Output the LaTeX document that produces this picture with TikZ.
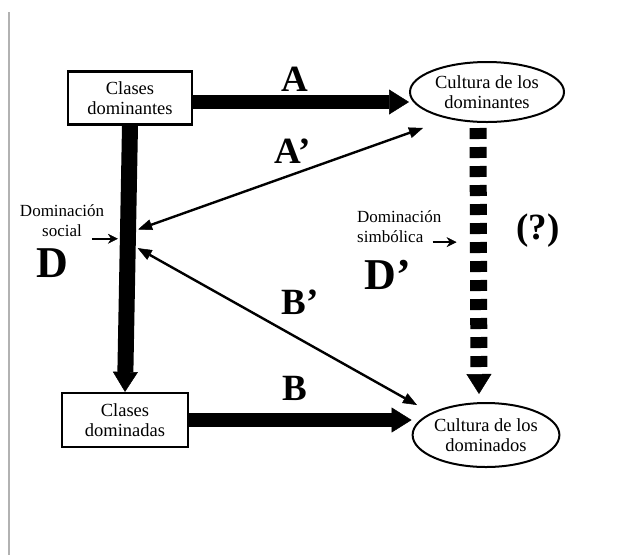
\documentclass[tikz,border=0pt]{standalone}
\usepackage{fontspec}
\setmainfont{Liberation Serif}
\usetikzlibrary{arrows.meta, positioning, shapes, calc}

\begin{document}
\begin{tikzpicture}[x=1pt, y=-1pt,
    classbox/.style={draw, line width=2.2pt, inner sep=0pt, align=center,
        font=\fontsize{18.5}{20}\selectfont},
    culture/.style={draw, ellipse, line width=2pt, inner sep=0pt, align=center,
        font=\fontsize{18.5}{20}\selectfont},
    bigarrow/.style={line width=14pt,
        -{Triangle[length=20pt, width=25pt, line width=0.5pt]}},
    dblarrow/.style={line width=2.4pt,
        {Triangle[length=14pt, width=11pt, line width=0.5pt]}-{Triangle[length=14pt, width=11pt, line width=0.5pt]}},
    smallarrow/.style={line width=2.2pt,
        -{Stealth[length=10pt, width=10pt, line width=0.5pt]}},
    letter/.style={font=\fontsize{37}{37}\selectfont\bfseries, inner sep=0pt},
    bigletter/.style={font=\fontsize{44}{44}\selectfont\bfseries, inner sep=0pt},
    sidenote/.style={font=\fontsize{17}{20}\selectfont, inner sep=0pt}
]

    \useasboundingbox (0,0) rectangle (617,555);

    % PAGE EDGE
    \draw[gray!60, line width=2pt] (9,12) -- (9,555);

    % CLASSES
    \node[classbox, minimum width=124pt, minimum height=53pt] (cdom) at (130,98)
        {Clases\\dominantes};
    \node[classbox, minimum width=126pt, minimum height=54pt] (cdomd) at (125,420)
        {Clases\\dominadas};

    % CULTURES
    \node[culture, minimum width=154pt, minimum height=60pt] (cudom) at (487,92)
        {Cultura de los\\dominantes};
    \node[culture, minimum width=146pt, minimum height=64pt] (cudomd) at (486,435)
        {Cultura de los\\dominados};

    % A AND B
    \draw[bigarrow] ($(cdom.east)+(0,4)$) coordinate (a1) -- (a1 -| cudom.west);
    \node[letter] (la) at (295,79) {A};
    \draw[bigarrow] (cdomd.east) -- (cdomd.east -| cudomd.west);
    \node[letter] (lb) at (295,388) {B};

    % SOCIAL DOMINATION
    \draw[bigarrow, line width=16pt] (cdom.south) -- (cdomd.north);
    \node[bigletter] (ld) at (52,263) {D};
    \node[sidenote, align=center] (ds) at (62,221) {Dominación\\social};
    \coordinate (dsend) at ($(cdom.south)!0.425!(cdomd.north)+(-10,0)$);
    \draw[smallarrow] ($(dsend)+(-26,0)$) -- (dsend);

    % SYMBOLIC DOMINATION
    \draw[bigarrow, line width=17pt, dash pattern=on 11pt off 8pt]
        ($(cudom.south)+(-9,5)$) -- ($(cudomd.north)+(-7,-8)$);
    \node[bigletter] (ldp) at (388,275) {D'};
    \node[letter] (lq) at (538,231) {(?)};
    \node[sidenote, align=left, anchor=west] (dsim) at (357,227)
        {Dominación\\simbólica};
    \coordinate (dsimend) at ($(cudom.south)!0.427!(cudomd.north)+(-30,0)$);
    \draw[smallarrow] ($(dsimend)+(-24,0)$) -- (dsimend);

    % A' AND B'
    \coordinate (sA) at ($(cdom.south)!0.39!(cdomd.north)+(10,0)$);
    \draw[dblarrow] (sA) -- ($(cudom.center)+(-64,36)$);
    \node[letter] (lap) at (293,151) {A'};
    \coordinate (sB) at ($(cdom.south)!0.46!(cdomd.north)+(10,0)$);
    \draw[dblarrow] (sB) -- ($(cudomd.center)+(-69,-30)$);
    \node[letter] (lbp) at (300,302) {B'};

\end{tikzpicture}
\end{document}
